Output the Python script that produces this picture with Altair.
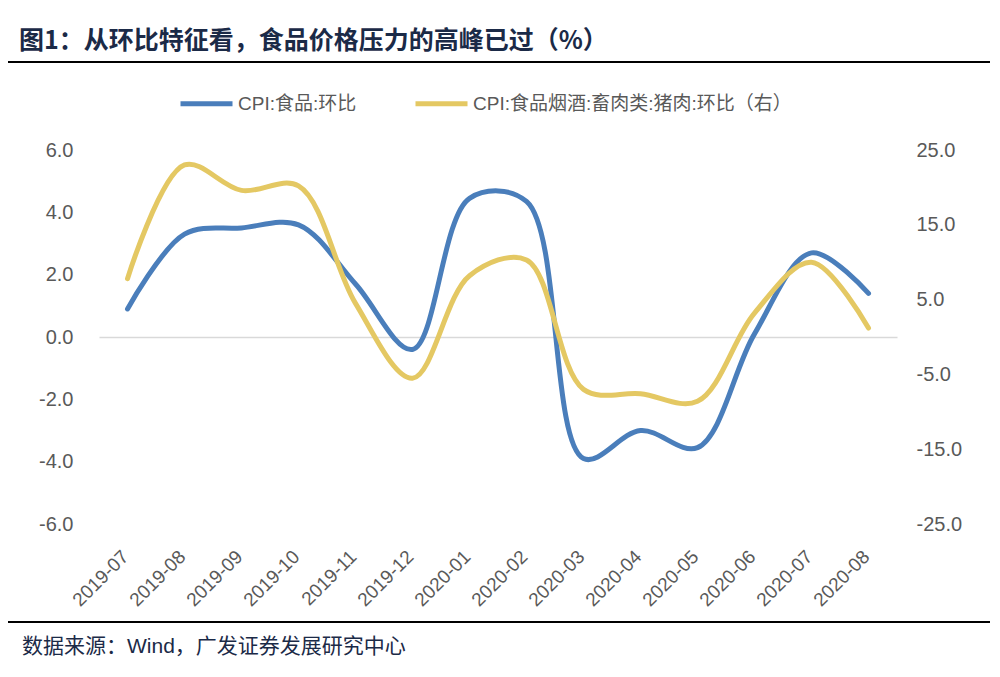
import altair as alt
import pandas as pd

months = ["2019-07", "2019-08", "2019-09", "2019-10", "2019-11", "2019-12",
          "2020-01", "2020-02", "2020-03", "2020-04", "2020-05", "2020-06",
          "2020-07", "2020-08"]
food_mom = [0.9, 3.3, 3.5, 3.6, 1.7, -0.4, 4.45, 4.35, -3.9, -3.0, -3.55, 0.1, 2.7, 1.4]
pork_mom = [7.8, 23.0, 19.6, 20.2, 4.5, -5.5, 8.2, 10.3, -7.0, -7.6, -8.6, 3.2, 10.0, 1.2]

series_names = ["CPI:食品:环比", "CPI:食品烟酒:畜肉类:猪肉:环比（右）"]
series_colors = ["#4A7EBB", "#E4C863"]
left_ticks = [-6, -4, -2, 0, 2, 4, 6]
right_ticks = [-25, -15, -5, 5, 15, 25]

title_text = "图1：从环比特征看，食品价格压力的高峰已过（%）"
source_text = "数据来源：Wind，广发证券发展研究中心"

df = pd.DataFrame({"month": months, "food": food_mom, "pork": pork_mom})

LAB_FONT = "Liberation Sans, Noto Sans CJK SC"
GRAY = "#595959"
DARK = "#1B2A47"
NUM_EXPR = "replace(format(datum.value, '.1f'), '\u2212', '-')"

color_scale = alt.Scale(domain=series_names, range=series_colors)

x_enc = alt.X(
    "month:O",
    sort=months,
    scale=alt.Scale(type="point", padding=0.5),
    axis=alt.Axis(
        title=None, labelAngle=-45, labelFontSize=19, labelColor=GRAY,
        labelFont=LAB_FONT, domain=False, ticks=False, labelPadding=23,
        labelOffset=-9, grid=False,
    ),
)

food_line = alt.Chart(df).transform_calculate(
    series="'" + series_names[0] + "'"
).mark_line(interpolate="catmull-rom", strokeWidth=5, strokeCap="round").encode(
    x=x_enc,
    y=alt.Y(
        "food:Q",
        scale=alt.Scale(domain=[-6, 6], nice=False, zero=False),
        axis=alt.Axis(
            title=None, orient="left", values=left_ticks, labelExpr=NUM_EXPR,
            labelFontSize=20, labelColor=GRAY, labelFont=LAB_FONT,
            domain=False, ticks=False, labelPadding=26,
            grid=True, gridColor="#D9D9D9", gridWidth=1.5,
            gridOpacity=alt.condition("datum.value == 0", alt.value(1), alt.value(0)),
        ),
    ),
    color=alt.Color(
        "series:N", scale=color_scale,
        legend=alt.Legend(
            title=None, orient="none", legendX=79, legendY=-75,
            direction="horizontal", symbolType="stroke", symbolSize=2704,
            symbolStrokeWidth=5, labelFontSize=19, labelColor=GRAY,
            labelFont=LAB_FONT, labelOffset=3, columnPadding=48,
            labelLimit=0,
        ),
    ),
)

pork_line = alt.Chart(df).transform_calculate(
    series="'" + series_names[1] + "'"
).mark_line(interpolate="catmull-rom", strokeWidth=5, strokeCap="round").encode(
    x=x_enc,
    y=alt.Y(
        "pork:Q",
        scale=alt.Scale(domain=[-25, 25], nice=False, zero=False),
        axis=alt.Axis(
            title=None, orient="right", values=right_ticks, labelExpr=NUM_EXPR,
            labelFontSize=20, labelColor=GRAY, labelFont=LAB_FONT,
            domain=False, ticks=False, labelPadding=19, grid=False,
        ),
    ),
    color=alt.Color("series:N", scale=color_scale),
)

title_mark = alt.Chart(pd.DataFrame({"t": [title_text]})).mark_text(
    align="left", baseline="middle", fontSize=25, fontWeight="bold",
    font="Noto Sans CJK SC", color=DARK,
).encode(text="t:N", x=alt.value(-80), y=alt.value(-109))

source_mark = alt.Chart(pd.DataFrame({"t": [source_text]})).mark_text(
    align="left", baseline="middle", fontSize=21,
    font="Liberation Sans, Noto Sans CJK SC", color=DARK,
).encode(text="t:N", x=alt.value(-77), y=alt.value(497))

top_rule = alt.Chart(pd.DataFrame({"a": [0]})).mark_rule(
    color="#000000", strokeWidth=2
).encode(x=alt.value(-91), x2=alt.value(891), y=alt.value(-88))

bottom_rule = alt.Chart(pd.DataFrame({"a": [0]})).mark_rule(
    color="#000000", strokeWidth=2
).encode(x=alt.value(-91), x2=alt.value(891), y=alt.value(472))

chart = alt.layer(
    food_line, pork_line, title_mark, source_mark, top_rule, bottom_rule
).resolve_scale(y="independent").properties(
    width=798, height=374, background="white",
    autosize=alt.AutoSizeParams(type="none"),
    padding={"left": 91, "top": 142, "right": 93, "bottom": 140},
).configure_view(stroke="transparent", strokeWidth=0)

chart.save("out.html", embed_options={"renderer": "svg", "actions": False})
